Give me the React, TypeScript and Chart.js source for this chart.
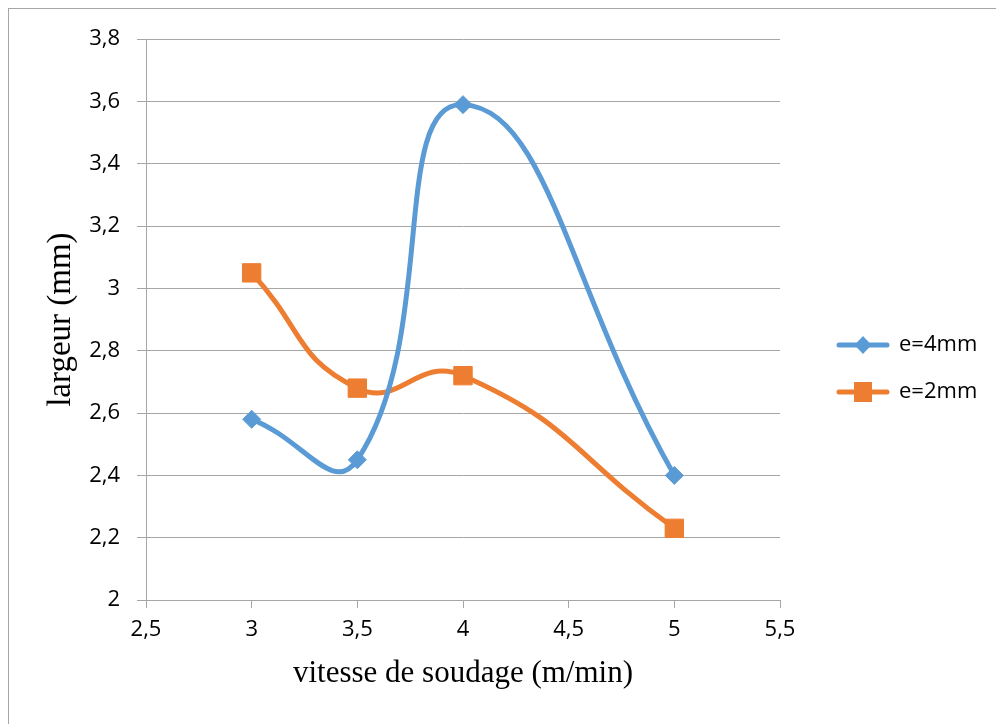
import React, { useEffect, useRef } from 'react';
import { Chart, registerables } from 'chart.js';

Chart.register(...registerables);

const xValues = [3, 3.5, 4, 5];
const series4mm = [2.58, 2.45, 3.59, 2.4];
const series2mm = [3.05, 2.68, 2.72, 2.23];
const seriesLabels = ['e=4mm', 'e=2mm'];
const xTicks = [2.5, 3, 3.5, 4, 4.5, 5, 5.5];
const yTicks = [2, 2.2, 2.4, 2.6, 2.8, 3, 3.2, 3.4, 3.6, 3.8];
const xTitle = 'vitesse de soudage (m/min)';
const yTitle = 'largeur (mm)';

const BLUE = '#5B9BD5';
const ORANGE = '#ED7D31';
const GRID = '#a6a6a6';
const SANS = "'Open Sans'";
const TICK_FONT = { family: SANS, size: 22 };
const LEGEND_SIZE = 22;
const TITLE_FAMILY = "'Liberation Serif'";

const CANVAS_W = 987;
const CANVAS_H = 715;
const SPACER_W = 33;
const LEGEND_PAD = 25;
const LEGEND_BOX_W = 50;
const LEGEND_W = 172;

function fmt(v: number): string {
  return String(Number(Number(v).toFixed(1))).replace('.', ',');
}

function makeIcon(color: string, shape: 'diamond' | 'square'): HTMLCanvasElement {
  const c = document.createElement('canvas');
  c.width = 54;
  c.height = 22;
  const ctx = c.getContext('2d')!;
  ctx.strokeStyle = color;
  ctx.lineWidth = 5;
  ctx.lineCap = 'round';
  ctx.beginPath();
  ctx.moveTo(3, 11);
  ctx.lineTo(51, 11);
  ctx.stroke();
  ctx.fillStyle = color;
  if (shape === 'diamond') {
    ctx.beginPath();
    ctx.moveTo(27, 2);
    ctx.lineTo(35.5, 11);
    ctx.lineTo(27, 20);
    ctx.lineTo(18.5, 11);
    ctx.closePath();
    ctx.fill();
  } else {
    ctx.fillRect(18, 1, 18, 20);
  }
  return c;
}

const fixLegendWidth = {
  id: 'fixLegendWidth',
  beforeLayout(chart: any) {
    const lg = chart.legend;
    if (lg && !lg.__fixed) {
      const orig = lg.fit.bind(lg);
      lg.fit = function () {
        orig();
        this.width = LEGEND_W;
      };
      lg.__fixed = true;
    }
  },
};

export default function App() {
  const ref = useRef<HTMLCanvasElement | null>(null);

  useEffect(() => {
    document.documentElement.style.overflow = 'hidden';
    let chart: Chart | null = null;
    let cancelled = false;

    const loads = [`${LEGEND_SIZE}px ${SANS}`, `22px ${SANS}`, `31px ${TITLE_FAMILY}`].map((f) =>
      (document as any).fonts.load(f).catch(() => null)
    );

    Promise.all(loads).then(() => {
      const canvas = ref.current;
      if (cancelled || !canvas) return;
      const wctx = canvas.getContext('2d')!;
      wctx.save();
      wctx.font = `${LEGEND_SIZE}px ${SANS}`;
      wctx.measureText(seriesLabels[0]);
      wctx.font = `31px ${TITLE_FAMILY}`;
      wctx.measureText(xTitle);
      wctx.restore();

      const icons = [makeIcon(BLUE, 'diamond'), makeIcon(ORANGE, 'square')];

      chart = new Chart(canvas, {
        type: 'line',
        plugins: [fixLegendWidth],
        data: {
          datasets: [
            {
              label: seriesLabels[0],
              data: xValues.map((x, i) => ({ x, y: series4mm[i] })),
              borderColor: BLUE,
              backgroundColor: BLUE,
              borderWidth: 5,
              pointStyle: 'rectRot',
              pointRadius: 9,
              pointBorderWidth: 1,
              pointBackgroundColor: BLUE,
              pointBorderColor: BLUE,
              tension: 0.5,
              fill: false,
            },
            {
              label: seriesLabels[1],
              data: xValues.map((x, i) => ({ x, y: series2mm[i] })),
              borderColor: ORANGE,
              backgroundColor: ORANGE,
              borderWidth: 5,
              pointStyle: 'rect',
              pointRadius: 13,
              pointBorderWidth: 1,
              pointBackgroundColor: ORANGE,
              pointBorderColor: ORANGE,
              tension: 0.5,
              fill: false,
            },
          ],
        },
        options: {
          animation: false,
          responsive: false,
          maintainAspectRatio: false,
          devicePixelRatio: 1,
          layout: { padding: { top: 29, left: 0, right: 11, bottom: 25 } },
          plugins: {
            tooltip: { enabled: false },
            legend: {
              position: 'right',
              labels: {
                usePointStyle: true,
                pointStyleWidth: LEGEND_BOX_W,
                padding: LEGEND_PAD,
                color: '#000',
                font: { family: SANS, size: LEGEND_SIZE },
                generateLabels: (ch: any) => {
                  const items = (Chart.defaults.plugins.legend.labels as any).generateLabels(ch);
                  items.forEach((it: any, i: number) => {
                    it.pointStyle = icons[i];
                  });
                  return items;
                },
              },
            },
          },
          scales: {
            x: {
              type: 'linear',
              min: 2.5,
              max: 5.5,
              afterBuildTicks: (s: any) => {
                s.ticks = xTicks.map((v) => ({ value: v }));
              },
              afterFit: (s: any) => {
                s.height = 99;
              },
              ticks: {
                callback: (v: any) => fmt(v),
                color: '#000',
                font: TICK_FONT,
                padding: 9,
                maxRotation: 0,
                autoSkip: false,
              },
              grid: {
                drawOnChartArea: false,
                drawTicks: true,
                tickLength: 8,
                color: GRID,
                tickColor: GRID,
              },
              border: { display: true, color: GRID, width: 1 },
              title: {
                display: true,
                text: xTitle,
                color: '#000',
                font: { family: TITLE_FAMILY, size: 31 },
                padding: { top: 0, bottom: 7 },
              },
            },
            y: {
              type: 'linear',
              min: 2,
              max: 3.8,
              afterBuildTicks: (s: any) => {
                s.ticks = yTicks.map((v) => ({ value: v }));
              },
              afterFit: (s: any) => {
                s.width = 137;
              },
              ticks: {
                callback: (v: any) => fmt(v),
                color: '#000',
                font: TICK_FONT,
                padding: 17,
                autoSkip: false,
              },
              grid: {
                drawOnChartArea: true,
                drawTicks: true,
                tickLength: 9,
                color: GRID,
                tickColor: GRID,
              },
              border: { display: true, color: GRID, width: 1 },
              title: {
                display: true,
                text: yTitle,
                color: '#000',
                font: { family: TITLE_FAMILY, size: 33 },
                padding: { top: 33, bottom: 0 },
              },
            },
            spacer: {
              type: 'linear',
              position: 'right',
              display: true,
              grid: { display: false, drawTicks: false },
              ticks: { display: false },
              border: { display: false },
              afterFit: (s: any) => {
                s.width = SPACER_W;
              },
            },
          },
        } as any,
      });
    });

    return () => {
      cancelled = true;
      if (chart) chart.destroy();
    };
  }, []);

  return (
    <div
      style={{
        position: 'fixed',
        left: 8,
        top: 8,
        width: 988,
        height: 716,
        boxSizing: 'border-box',
        borderTop: '1px solid #a6a6a6',
        borderLeft: '1px solid #a6a6a6',
        background: '#fff',
      }}
    >
      <canvas
        ref={ref}
        width={CANVAS_W}
        height={CANVAS_H}
        style={{ display: 'block', width: CANVAS_W, height: CANVAS_H }}
      />
    </div>
  );
}
